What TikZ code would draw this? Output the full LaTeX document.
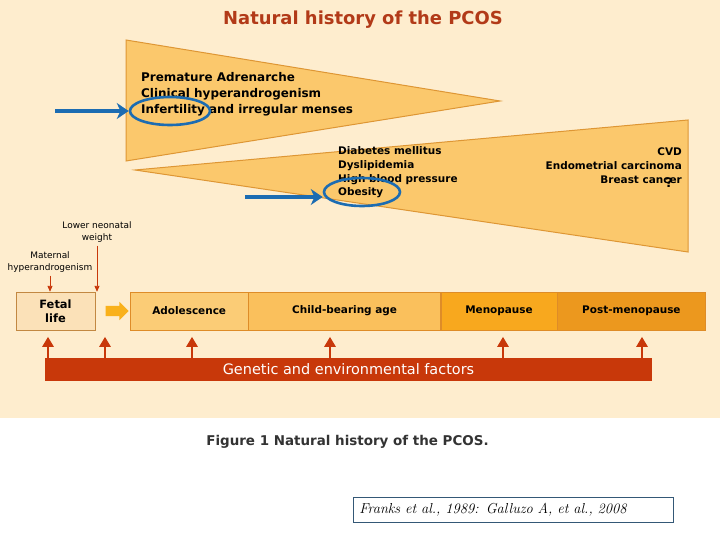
\documentclass[tikz,border=0pt]{standalone}
\usepackage{fontspec}
\newfontfamily\tahoma{DejaVu Sans}
\usetikzlibrary{shapes.geometric, shapes.arrows, arrows.meta, positioning}

\definecolor{creambg}{RGB}{254,237,206}
\definecolor{wedge}{RGB}{251,200,108}
\definecolor{wedgeline}{RGB}{222,150,52}
\definecolor{fetalfill}{RGB}{251,225,184}
\definecolor{adolfill}{RGB}{251,204,118}
\definecolor{childfill}{RGB}{250,192,92}
\definecolor{menofill}{RGB}{248,168,30}
\definecolor{postfill}{RGB}{236,152,30}
\definecolor{stageline}{RGB}{222,140,40}
\definecolor{factred}{RGB}{200,56,10}
\definecolor{titlered}{RGB}{178,58,24}
\definecolor{markblue}{RGB}{28,108,178}
\definecolor{citeline}{RGB}{52,88,118}

\tikzset{
  stagebox/.style={draw=stageline, minimum height=38bp, inner sep=0pt, align=center,
    font=\tahoma\bfseries\fontsize{10.5}{14}\selectfont},
  riskline/.style={inner sep=0pt, anchor=north west, align=left},
  upfactor/.style={-{Triangle[length=10bp,width=11bp]}, line width=2.6bp, factred},
  downcause/.style={-{Triangle[length=6bp,width=5bp]}, line width=0.9bp, factred},
  ring/.style={draw=markblue, line width=2.6bp, ellipse, inner sep=0pt},
  pointer/.style={-{Stealth[length=12bp,width=16bp]}, line width=4bp, markblue}
}

\begin{document}
\begin{tikzpicture}[x=1bp,y=-1bp]
        \useasboundingbox (0,0) rectangle (720,540);
        \fill[creambg] (0,0) rectangle (720,418);

        \node[font=\tahoma\bfseries\fontsize{18}{22}\selectfont, text=titlered] (title) at (363,19.5) {Natural history of the PCOS};

        % the two wedges
        \filldraw[fill=wedge, draw=wedgeline, line width=1bp] (126,40) -- (500,101) -- (126,161) -- cycle;
        \filldraw[fill=wedge, draw=wedgeline, line width=1bp] (135,170) -- (688,120) -- (688,252) -- cycle;

        \node[riskline, font=\tahoma\bfseries\fontsize{12}{16}\selectfont] (early) at (141,72.5)
          {Premature Adrenarche\\Clinical hyperandrogenism\\Infertility and irregular menses};
        \node[riskline, font=\tahoma\bfseries\fontsize{10.5}{14}\selectfont] (metab) at (338,146)
          {Diabetes mellitus\\Dyslipidemia\\High blood pressure\\Obesity};
        \node[riskline, anchor=north east, align=right, font=\tahoma\bfseries\fontsize{10.5}{14}\selectfont] (late) at (682,148)
          {CVD\\Endometrial carcinoma\\Breast cancer};
        \node[font=\tahoma\bfseries\fontsize{13}{15}\selectfont, inner sep=0pt] (unsure) at (669,183) {?};

        % highlights
        \node[ring, minimum width=80bp, minimum height=28bp] (ringinf) at (170,111) {};
        \node[ring, minimum width=76bp, minimum height=28bp] (ringob) at (362,192) {};
        \coordinate (startinf) at (55,111);
        \coordinate (startob) at (245,197);
        \draw[pointer] (startinf) -- (ringinf.west);
        \draw[pointer] (startob) -- (ringob.west |- startob);

        % life stages
        \node[stagebox, draw=stageline!70!gray, fill=fetalfill, minimum width=79bp,
              font=\tahoma\bfseries\fontsize{11.5}{14}\selectfont] (fetal) at (55.5,311) {Fetal\\life};
        \node[single arrow, fill=menofill!90!yellow, inner xsep=0pt, inner ysep=5bp, minimum height=23bp,
              single arrow head extend=4bp] (move) at (114.5,311) {};
        \node[stagebox, fill=adolfill, minimum width=118bp, anchor=west] (adol) at (130,311) {Adolescence};
        \node[stagebox, fill=childfill, minimum width=192bp] (child) [right=0pt of adol] {Child-bearing age};
        \node[stagebox, fill=menofill, minimum width=116bp] (meno) [right=0pt of child] {Menopause};
        \node[stagebox, fill=postfill, minimum width=148bp] (post) [right=0pt of meno] {Post-menopause};

        % prenatal causes
        \node[font=\tahoma\fontsize{9}{12}\selectfont, align=center, inner sep=0pt] (maternal) at (50,262) {Maternal\\hyperandrogenism};
        \node[font=\tahoma\fontsize{9}{12}\selectfont, align=center, inner sep=0pt] (neonatal) at (97,232) {Lower neonatal\\weight};
        \draw[downcause] (maternal.south -| 50,0) ++(0,3) -- (fetal.north -| 50,0);
        \draw[downcause] (neonatal.south -| 97,0) ++(0,3) -- (fetal.north -| 97,0);

        % factors bar
        \node[fill=factred, minimum width=607bp, minimum height=23bp, inner sep=0pt, text=white,
              font=\tahoma\fontsize{14.5}{16}\selectfont] (genes) at (348.5,369.5) {Genetic and environmental factors};
        \foreach \ux in {48,105,192,330,503,642}
          \draw[upfactor] (genes.north -| \ux,0) -- ++(0,-21);

        \node[font=\tahoma\bfseries\fontsize{13.5}{16}\selectfont, text=black!80] (caption) at (347.5,442) {Figure 1 Natural history of the PCOS.};
        \node[draw=citeline, line width=0.8bp, text width=308bp, minimum height=25bp, inner sep=6bp, align=left,
              font=\itshape\fontsize{14.5}{16}\selectfont, anchor=west] (cite) at (353,509.5) {Franks et al., 1989: Galluzo A, et al., 2008};
    \end{tikzpicture}
\end{document}
